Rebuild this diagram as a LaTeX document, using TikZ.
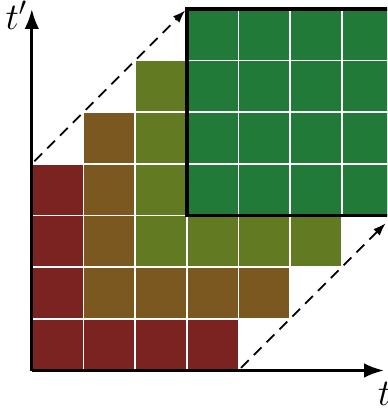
\documentclass[tikz,border=0pt]{standalone}
\usetikzlibrary{arrows.meta}
\definecolor{cred}{HTML}{7A2320}
\definecolor{cbrown}{HTML}{7A5820}
\definecolor{colive}{HTML}{627A22}
\definecolor{cgreen}{HTML}{217A37}
\begin{document}
\begin{tikzpicture}[
  cell/.style={draw=white, line width=1pt},
  axisline/.style={line width=1.6pt, -{Latex[length=11pt,width=8pt]}},
  shiftarrow/.style={dashed, dash pattern=on 6pt off 4pt, line width=1pt, -{Latex[length=7pt,width=5pt]}},
  box/.style={draw=black, line width=2pt}
]
\useasboundingbox (-0.616,-0.784) rectangle (6.877,7.173);
\clip (-0.616,-0.784) rectangle (6.877,7.173);
% L-shaped bands
\foreach \k/\c in {0/cred,1/cbrown,2/colive,3/cgreen}{
  \foreach \i in {0,...,3}{
    \pgfmathtruncatemacro{\xx}{\k+\i}
    \fill[\c] (\xx,\k) rectangle ++(1,1);
    \draw[cell] (\xx,\k) rectangle ++(1,1);
    \fill[\c] (\k,\xx) rectangle ++(1,1);
    \draw[cell] (\k,\xx) rectangle ++(1,1);
  }
}
% green block
\foreach \i in {3,...,6}{
  \foreach \j in {3,...,6}{
    \fill[cgreen] (\i,\j) rectangle ++(1,1);
    \draw[cell] (\i,\j) rectangle ++(1,1);
  }
}
\draw[box] (3,3) rectangle (7,7);
% axes
\coordinate (O) at (0,0);
\coordinate (X) at (6.82,0);
\coordinate (Y) at (0,7.0);
\draw[axisline] (O) -- (X);
\draw[axisline] (O) -- (Y);
\node (tl) at (6.83,-0.45) {\huge $t$};
\node (tp) at (-0.3,6.88) {\huge $t'$};
% dashed shifts
\coordinate (a1) at (0.05,4.05);
\coordinate (a2) at (2.97,6.97);
\coordinate (b1) at (4.05,0.05);
\coordinate (b2) at (6.85,2.85);
\draw[shiftarrow] (a1) -- (a2);
\draw[shiftarrow] (b1) -- (b2);
\end{tikzpicture}
\end{document}
